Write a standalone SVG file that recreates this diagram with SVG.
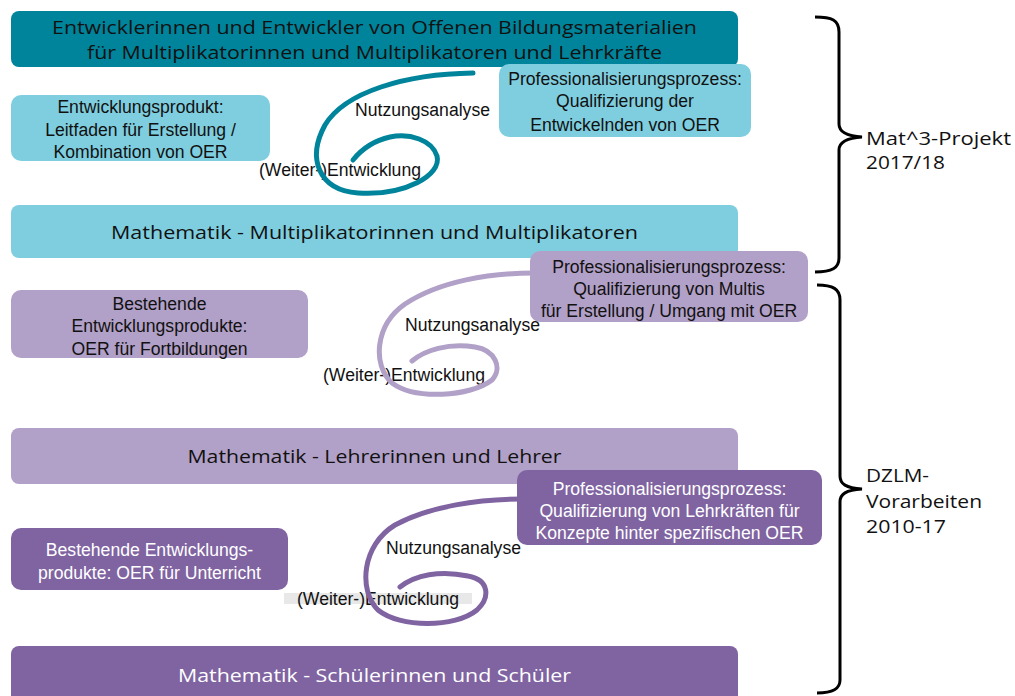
<svg xmlns="http://www.w3.org/2000/svg" width="1015" height="696" viewBox="0 0 1015 696">
<style>
.cal{font-family:"Open Sans","Noto Sans",sans-serif;font-size:18.5px}
.ar{font-family:"Liberation Sans",Arial,sans-serif;font-size:17.6px}
.dk{fill:#111}
.wt{fill:#fff}
.mid{text-anchor:middle}
.teal{fill:#00849B}
.lteal{fill:#7FCEDF}
.lpur{fill:#B1A0C7}
.dpur{fill:#8064A2}
.spiral{fill:none;stroke-linecap:round;stroke-width:5}
.brace{fill:none;stroke:#000;stroke-width:3}
</style>
<rect width="1015" height="696" fill="#fff"/>

<g id="bar-entwickler">
<rect class="teal" x="11" y="11" width="727" height="56" rx="8"/>
<text class="cal dk mid" x="374.5" y="34" textLength="645" lengthAdjust="spacingAndGlyphs">Entwicklerinnen und Entwickler von Offenen Bildungsmaterialien</text>
<text class="cal dk mid" x="374.5" y="59" textLength="575" lengthAdjust="spacingAndGlyphs">für Multiplikatorinnen und Multiplikatoren und Lehrkräfte</text>
</g>
<g id="bar-multis">
<rect class="lteal" x="11" y="205" width="727" height="53" rx="8"/>
<text class="cal dk mid" x="374.5" y="239" textLength="527" lengthAdjust="spacingAndGlyphs">Mathematik - Multiplikatorinnen und Multiplikatoren</text>
</g>
<g id="bar-lehrer">
<rect class="lpur" x="11" y="428" width="727" height="56" rx="8"/>
<text class="cal dk mid" x="374.5" y="463" textLength="374" lengthAdjust="spacingAndGlyphs">Mathematik - Lehrerinnen und Lehrer</text>
</g>
<g id="bar-schueler">
<rect class="dpur" x="11" y="646" width="727" height="60" rx="8"/>
<text class="cal wt mid" x="374.5" y="682" textLength="393" lengthAdjust="spacingAndGlyphs">Mathematik - Schülerinnen und Schüler</text>
</g>

<g id="produkt-leitfaden">
<rect class="lteal" x="11" y="95" width="259" height="66" rx="10"/>
<text class="ar dk mid" x="140.5" y="113">Entwicklungsprodukt:</text>
<text class="ar dk mid" x="140.5" y="136">Leitfaden für Erstellung /</text>
<text class="ar dk mid" x="140.5" y="158">Kombination von OER</text>
</g>
<g id="produkt-fortbildungen">
<rect class="lpur" x="11" y="290" width="297" height="68" rx="10"/>
<text class="ar dk mid" x="159.5" y="310">Bestehende</text>
<text class="ar dk mid" x="159.5" y="332">Entwicklungsprodukte:</text>
<text class="ar dk mid" x="159.5" y="355">OER  für Fortbildungen</text>
</g>
<g id="produkt-unterricht">
<rect class="dpur" x="11" y="528" width="277" height="62" rx="10"/>
<text class="ar wt mid" x="149.5" y="556">Bestehende Entwicklungs-</text>
<text class="ar wt mid" x="149.5" y="579">produkte: OER für Unterricht</text>
</g>

<g id="connectors">
<text class="ar dk" x="355" y="116">Nutzungsanalyse</text>
<text class="ar dk" x="259" y="176">(Weiter-)Entwicklung</text>
<path class="spiral" stroke="#00849B" d="M473,73 C405,74 345,92 325,125 C307,158 318,190 358,193 C405,196 442,175 437,156 C432,140 410,133 390,137 C372,141 361,150 353,160"/>

<text class="ar dk" x="405" y="331">Nutzungsanalyse</text>
<text class="ar dk" x="323" y="381">(Weiter-)Entwicklung</text>
<path class="spiral" stroke="#B1A0C7" d="M534,273 C490,273 440,281 405,304 C375,325 372,365 392,383 C415,400 470,397 492,380 C503,368 495,350 475,347 C448,343 425,350 412,361"/>

<rect x="284" y="593" width="188" height="11" fill="#e8e8e8"/>
<text class="ar dk" x="386" y="554">Nutzungsanalyse</text>
<text class="ar dk" x="297" y="605">(Weiter-)Entwicklung</text>
<path class="spiral" stroke="#8064A2" d="M522,499 C480,499 430,506 395,525 C362,545 358,590 378,610 C400,628 455,628 477,610 C490,598 490,580 468,576 C440,570 415,575 400,587"/>
</g>

<g id="prof-entwickelnde">
<rect class="lteal" x="499" y="64" width="252" height="73" rx="10"/>
<text class="ar dk mid" x="625" y="85">Professionalisierungsprozess:</text>
<text class="ar dk mid" x="625" y="107">Qualifizierung der</text>
<text class="ar dk mid" x="625" y="131">Entwickelnden von OER</text>
</g>
<g id="prof-multis">
<rect class="lpur" x="530" y="251" width="278" height="71" rx="10"/>
<text class="ar dk mid" x="669" y="273">Professionalisierungsprozess:</text>
<text class="ar dk mid" x="669" y="295">Qualifizierung von Multis</text>
<text class="ar dk mid" x="669" y="317">für Erstellung / Umgang mit OER</text>
</g>
<g id="prof-lehrkraefte">
<rect class="dpur" x="517" y="470" width="305" height="75" rx="10"/>
<text class="ar wt mid" x="669.5" y="495">Professionalisierungsprozess:</text>
<text class="ar wt mid" x="669.5" y="517">Qualifizierung von Lehrkräften für</text>
<text class="ar wt mid" x="669.5" y="539">Konzepte hinter spezifischen OER</text>
</g>

<g id="brace-mat3">
<path class="brace" d="M815,17 C832,17 839,20 839,32 L839,124 C839,132 846,136 862,137 C846,138 839,142 839,150 L839,258 C839,268 832,272 815,272"/>
<text class="cal dk" x="866" y="145" textLength="145" lengthAdjust="spacingAndGlyphs">Mat^3-Projekt</text>
<text class="cal dk" x="866" y="169" textLength="79" lengthAdjust="spacingAndGlyphs">2017/18</text>
</g>
<g id="brace-dzlm">
<path class="brace" d="M817,285 C833,285 840,289 840,300 L840,476 C840,484 846,488 862,489 C846,490 840,494 840,502 L840,680 C840,689 833,693 817,693"/>
<text class="cal dk" x="866" y="482" textLength="63" lengthAdjust="spacingAndGlyphs">DZLM-</text>
<text class="cal dk" x="866" y="508" textLength="116" lengthAdjust="spacingAndGlyphs">Vorarbeiten</text>
<text class="cal dk" x="866" y="533" textLength="80" lengthAdjust="spacingAndGlyphs">2010-17</text>
</g>
</svg>
